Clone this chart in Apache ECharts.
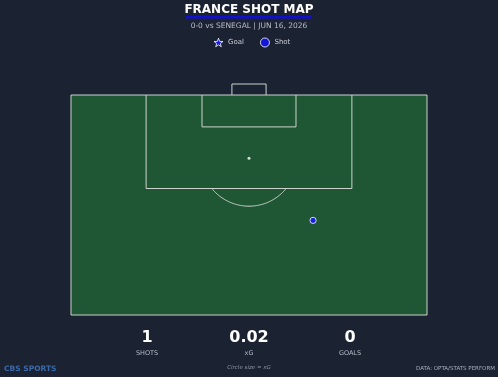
<!DOCTYPE html>
<html>
<head>
<meta charset="utf-8">
<script src="https://cdn.jsdelivr.net/npm/echarts@6/dist/echarts.min.js"></script>
<style>
html,body{margin:0;padding:0;background:#1b2232;}
#c{width:498px;height:377px;}
</style>
</head>
<body>
<div id="c"></div>
<script>
// ---- data ----
const titleText = 'FRANCE SHOT MAP';
const subtitleText = '0-0 vs SENEGAL | JUN 16, 2026';
const shotPitchY = [68.0];   // across the pitch (0-100)
const shotPitchX = [77.2];   // along the pitch (opta x)
const shotXG = [0.02];
const goalPitchY = [];
const goalPitchX = [];
const statValues = ['1', '0.02', '0'];
const statLabels = ['SHOTS', 'xG', 'GOALS'];

const FONT = 'DejaVu Sans';
const LINE = '#cdd3cd';
const BLUE = '#1515ff';
const chart = echarts.init(document.getElementById('c'), null, {renderer: 'canvas'});

function lineSeries(points, extra) {
  return Object.assign({
    type: 'line', data: points, symbol: 'none', silent: true, animation: false,
    lineStyle: {color: LINE, width: 1}, clip: false, z: 3
  }, extra || {});
}

// pitch geometry (opta units)
const outer = [[0,60],[0,100],[100,100],[100,60],[0,60]];
const box = [[21.1,100],[21.1,83],[78.9,83],[78.9,100]];
const six = [[36.8,100],[36.8,94.2],[63.2,94.2],[63.2,100]];
const goal = [[45.2,100],[45.2,102],[54.8,102],[54.8,100]];
const arc = [];
{
  const sx = 105/100, sy = 68/100;
  const r = 9.15;
  const dxm = (88.5 - 83) * sx;
  const a0 = Math.acos(dxm / r);
  for (let i = 0; i <= 40; i++) {
    const a = -a0 + (2 * a0) * i / 40;
    const px = 50 + (r * Math.sin(a)) / sy;
    const py = 88.5 - (r * Math.cos(a)) / sx;
    arc.push([px, py]);
  }
}

const starPath = 'path://M50,3 L61.8,36.2 L97,36.9 L69,58.3 L79.1,92 L50,72 L20.9,92 L31,58.3 L3,36.9 L38.2,36.2 Z';

const shotData = shotPitchY.map((v, i) => [v, shotPitchX[i], shotXG[i]]);
const goalData = goalPitchY.map((v, i) => [v, goalPitchX[i]]);

const graphics = [
  {type: 'text', left: 'center', top: 4, style: {text: titleText, font: 'bold 12px "' + FONT + '"', fill: '#ffffff'}},
  {type: 'rect', shape: {x: 186, y: 16, width: 126, height: 2.5}, style: {fill: '#1010d0'}},
  {type: 'text', left: 'center', top: 22, style: {text: subtitleText, font: '7.5px "' + FONT + '"', fill: '#b9bec8'}},
  {type: 'text', x: 249, y: 368, style: {text: 'Circle size = xG', font: 'italic 5.5px "' + FONT + '"', fill: '#8c93a0', align: 'center', verticalAlign: 'middle'}},
  {type: 'text', x: 4, y: 369, style: {text: 'CBS SPORTS', font: 'bold 7.5px "' + FONT + '"', fill: '#3c6aa8', align: 'left', verticalAlign: 'middle'}},
  {type: 'text', x: 495, y: 369, style: {text: 'DATA: OPTA/STATS PERFORM', font: '5.5px "' + FONT + '"', fill: '#aab0bb', align: 'right', verticalAlign: 'middle'}}
];
const statXs = [147, 249, 350];
statValues.forEach((v, i) => {
  graphics.push({type: 'text', x: statXs[i], y: 338, style: {text: v, font: 'bold 16px "' + FONT + '"', fill: '#ffffff', align: 'center', verticalAlign: 'middle'}});
  graphics.push({type: 'text', x: statXs[i], y: 353, style: {text: statLabels[i], font: '6.5px "' + FONT + '"', fill: '#b3b9c4', align: 'center', verticalAlign: 'middle'}});
});

chart.setOption({
  backgroundColor: '#1b2232',
  animation: false,
  grid: {left: 71, right: 71, top: 84, bottom: 62, containLabel: false},
  xAxis: {type: 'value', min: 0, max: 100, show: false},
  yAxis: {type: 'value', min: 60, max: 102, show: false},
  legend: {
    top: 37.5, left: 213.5, padding: 0, itemWidth: 9, itemHeight: 9, itemGap: 16,
    textStyle: {color: '#c8ccd4', fontSize: 7, fontFamily: FONT},
    data: [
      {name: 'Goal', icon: starPath, itemStyle: {color: BLUE, borderColor: '#ffffff', borderWidth: 1}},
      {name: 'Shot', icon: 'circle', itemStyle: {color: BLUE, borderColor: '#ffffff', borderWidth: 1}}
    ]
  },
  graphic: graphics,
  series: [
    lineSeries(outer, {
      z: 4,
      markArea: {silent: true, itemStyle: {color: '#1f5734'}, data: [[{coord: [0, 60]}, {coord: [100, 100]}]], z: 1}
    }),
    lineSeries(box),
    lineSeries(six),
    lineSeries(goal),
    lineSeries(arc, {smooth: true}),
    {type: 'scatter', data: [[50, 88.5]], symbol: 'circle', symbolSize: 3, itemStyle: {color: '#ffffff'}, silent: true, z: 4},
    {name: 'Goal', type: 'scatter', data: goalData, symbol: starPath, symbolSize: 10,
      itemStyle: {color: BLUE, borderColor: '#ffffff', borderWidth: 1}, z: 6},
    {name: 'Shot', type: 'scatter', data: shotData, symbol: 'circle',
      symbolSize: function (d) { return 5 + d[2] * 60; },
      itemStyle: {color: BLUE, borderColor: '#ffffff', borderWidth: 1}, z: 6}
  ]
});
</script>
</body>
</html>
